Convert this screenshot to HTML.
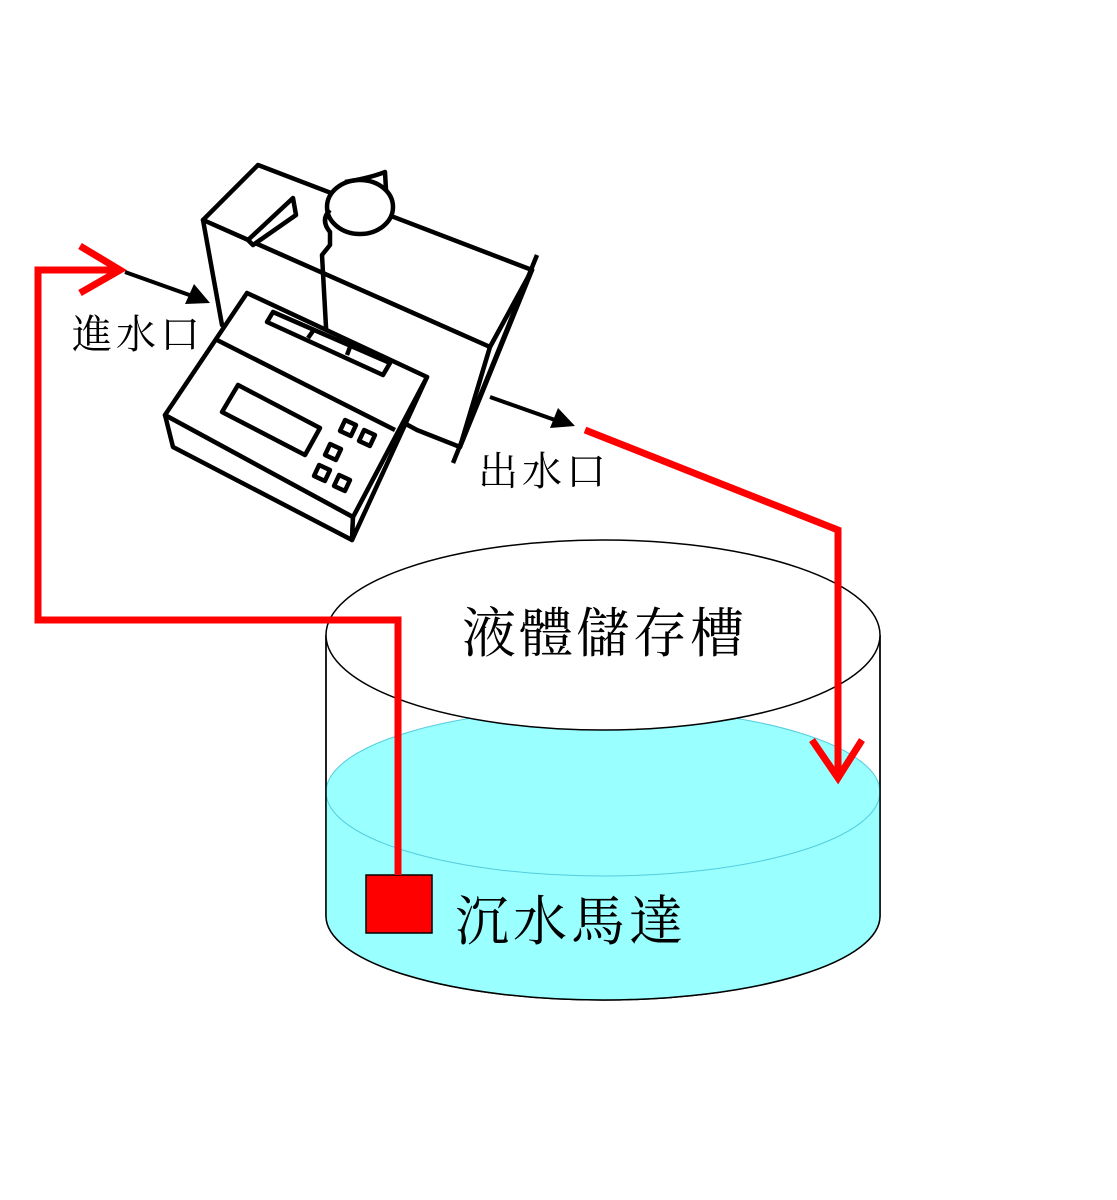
<!DOCTYPE html>
<html><head><meta charset="utf-8"><style>
body{margin:0;background:#fff}
svg{display:block}
text{font-family:"Liberation Serif","Noto Serif CJK SC","Noto Sans CJK TC",serif;fill:#000}
</style></head><body>
<svg width="1117" height="1200" viewBox="0 0 1117 1200" xmlns="http://www.w3.org/2000/svg">
<!-- tank -->
<path d="M326 635 L326 916 A277 84 0 0 0 880 916 L880 635" fill="#fff" stroke="#000" stroke-width="1.5"/>
<path d="M326 792 L326 916 A277 84 0 0 0 880 916 L880 792 A277 84 0 0 0 326 792 Z" fill="#99FFFF" stroke="none"/>
<ellipse cx="603" cy="792" rx="277" ry="84" fill="#99FFFF" stroke="#55ccdd" stroke-width="1"/>
<path d="M326 635 L326 916 A277 84 0 0 0 880 916 L880 635" fill="none" stroke="#000" stroke-width="1.5"/>
<ellipse cx="603" cy="635" rx="277" ry="95" fill="#fff" stroke="#000" stroke-width="1.5"/>
<text x="462" y="652" font-size="54" letter-spacing="3">液體儲存槽</text>
<text x="455" y="940" font-size="54" letter-spacing="4">沉水馬達</text>
<rect x="366" y="875" width="66" height="58" fill="#f00" stroke="#000" stroke-width="1.5"/>
<!-- red pipes -->
<g stroke="#f00" stroke-width="7" fill="none" stroke-linejoin="miter">
<path d="M398 875 L398 620 L38 620 L38 270 L120 270"/>
<path d="M80 246 L120 270 L80 293"/>
<path d="M585 430 L838 530 L838 778"/>
<path d="M812 740 L838 778 L862 740"/>
</g>
<!-- back box -->
<g stroke="#000" stroke-width="4.5" fill="#fff" stroke-linejoin="round">
<path d="M203 220 L258 165 L532 270 L490 347 Z"/>
<path d="M203 220 L490 347 L460 447 L417 430 L222 325 Z"/>
<path d="M490 347 L532 270 L460 447 Z"/>
<line x1="537" y1="255" x2="453" y2="463"/>
<path d="M248 240 L293 198 L296 215 L253 245 Z"/>
<ellipse cx="360" cy="207" rx="33" ry="27"/>
<path d="M345 182 Q370 178 385 172 L386 190" fill="none"/>
<path d="M330 210 Q320 220 330 232 L330 245 L322 255 L327 345" fill="none"/>
</g>
<!-- front device -->
<g stroke="#000" stroke-width="4.5" fill="#fff" stroke-linejoin="round">
<path d="M165 415 L173 447 L352 540 L353 517 Z"/>
<path d="M427 377 L352 540 L353 517 Z"/>
<path d="M247 293 L427 377 L353 517 L165 415 Z"/>
<line x1="217" y1="340" x2="395" y2="430"/>
<path d="M273 312 L390 363 L383 375 L267 322 Z"/>
<line x1="313" y1="331" x2="308" y2="338"/>
<line x1="350" y1="347" x2="347" y2="355"/>
<path d="M238 385 L320 428 L305 455 L222 412 Z"/>
<rect x="342" y="422" width="12" height="12" transform="rotate(25 348 428)"/>
<rect x="361" y="432" width="12" height="12" transform="rotate(25 367 438)"/>
<rect x="327" y="446" width="12" height="12" transform="rotate(25 333 452)"/>
<rect x="316" y="467" width="12" height="12" transform="rotate(25 322 473)"/>
<rect x="336" y="477" width="12" height="12" transform="rotate(25 342 483)"/>
</g>
<!-- black arrows -->
<g stroke="#000" stroke-width="4">
<line x1="125" y1="272" x2="195" y2="297"/>
<line x1="490" y1="397" x2="555" y2="420"/>
</g>
<path d="M210 303 L185 304 L194 284 Z" fill="#000"/>
<path d="M575 426 L550 428 L558 408 Z" fill="#000"/>
<text x="72" y="348" font-size="40" letter-spacing="4">進水口</text>
<text x="478" y="485" font-size="40" letter-spacing="4">出水口</text>
</svg>
</body></html>
